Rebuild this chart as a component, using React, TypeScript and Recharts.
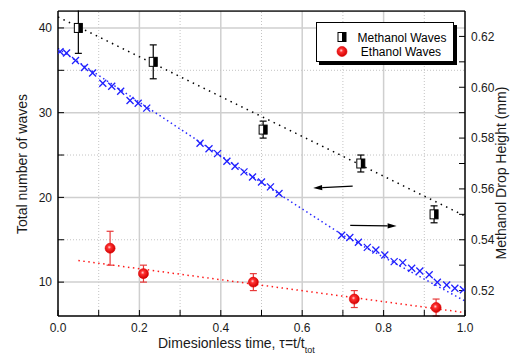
import {
  ComposedChart,
  XAxis,
  YAxis,
  Line,
  Scatter,
  ErrorBar,
  ReferenceLine,
} from "recharts";

const FONT = "'Liberation Sans', Arial, Helvetica, sans-serif";

// wave counts, left axis
const methanolTau = [0.05, 0.234, 0.504, 0.744, 0.924];
const methanolWaves = [40, 36, 28, 24, 18];
const methanolErr = [3, 2, 1, 1, 1];

const ethanolTau = [0.128, 0.21, 0.48, 0.728, 0.929];
const ethanolWaves = [14, 11, 10, 8, 7];
const ethanolErr = [2, 1, 1, 1, 1];

// dotted trend lines (end points)
const methanolFitTau = [0, 1];
const methanolFit = [41.3, 17.8];
const ethanolFitTau = [0.05, 1];
const ethanolFit = [12.55, 6.4];

// drop height, right axis
const heightTau = [
  0.005, 0.021, 0.043, 0.065, 0.085, 0.11, 0.132, 0.154, 0.177, 0.197, 0.218,
  0.349, 0.371, 0.392, 0.415, 0.435, 0.457, 0.478, 0.5, 0.522, 0.543,
  0.697, 0.717, 0.738, 0.76, 0.781, 0.803, 0.826, 0.847, 0.869, 0.889, 0.912,
  0.932, 0.955, 0.975, 0.996,
];
const heightMm = [
  0.614, 0.6135, 0.6105, 0.6078, 0.6056, 0.6016, 0.6004, 0.5984, 0.5948,
  0.5937, 0.5918,
  0.578, 0.5758, 0.5739, 0.5709, 0.5689, 0.5667, 0.5647, 0.5627, 0.5608,
  0.5582,
  0.5418, 0.5409, 0.539, 0.537, 0.536, 0.534, 0.5314, 0.531, 0.5288, 0.5277,
  0.5262, 0.5233, 0.5222, 0.5209, 0.5203,
];
const heightFitTau = [0, 0.54, 0.7, 1];
const heightFit = [0.6152, 0.5583, 0.5418, 0.5159];

// ticks
const xTicks = [0, 0.1, 0.2, 0.3, 0.4, 0.5, 0.6, 0.7, 0.8, 0.9, 1];
const leftTicks = [10, 15, 20, 25, 30, 35, 40];
const rightTicks = [0.52, 0.53, 0.54, 0.55, 0.56, 0.57, 0.58, 0.59, 0.6, 0.61, 0.62];

// arrows pointing at each series' axis
const arrowToLeft = [
  { x: 0.724, y: 21.34 },
  { x: 0.627, y: 21.1 },
];
const arrowToRight = [
  { x: 0.718, y: 16.69 },
  { x: 0.832, y: 16.63 },
];

const zip = (ts: number[], vs: number[], es?: number[]) =>
  ts.map((t, i) => ({ t, v: vs[i], err: es ? es[i] : 0 }));

const methanolData = zip(methanolTau, methanolWaves, methanolErr);
const ethanolData = zip(ethanolTau, ethanolWaves, ethanolErr);
const methanolFitData = zip(methanolFitTau, methanolFit);
const ethanolFitData = zip(ethanolFitTau, ethanolFit);
const heightData = zip(heightTau, heightMm);
const heightFitData = zip(heightFitTau, heightFit);

const xMajorGrid = xTicks.filter((_, i) => i % 2 === 0 && i > 0 && i < 10);
const xMinorGrid = xTicks.filter((_, i) => i % 2 === 1);
const yMajorGrid = leftTicks.filter((_, i) => i % 2 === 0);
const yMinorGrid = leftTicks.filter((_, i) => i % 2 === 1);

const tickStyle = { fill: "#1a1a1a", fontSize: 12, fontFamily: FONT };
const axisStyle = { stroke: "#000", strokeWidth: 1.5 };
const tickLineStyle = { stroke: "#000", strokeWidth: 1 };

function HalfSquare({ cx, cy }: any) {
  if (cx == null || cy == null) return null;
  return (
    <g>
      <rect x={cx - 4} y={cy - 4.5} width={8} height={9} fill="#fff" stroke="#000" strokeWidth={1} />
      <rect x={cx} y={cy - 4.5} width={4} height={9} fill="#000" />
    </g>
  );
}

function Ball({ cx, cy }: any) {
  if (cx == null || cy == null) return null;
  return (
    <g>
      <defs>
        <radialGradient id="ballGrad" cx="42%" cy="40%" r="60%">
          <stop offset="0%" stopColor="#ffd6d6" />
          <stop offset="30%" stopColor="#ff3030" />
          <stop offset="100%" stopColor="#d00000" />
        </radialGradient>
      </defs>
      <circle cx={cx} cy={cy} r={5} fill="url(#ballGrad)" stroke="#e00000" strokeWidth={0.6} />
    </g>
  );
}

function Cross({ cx, cy }: any) {
  if (cx == null || cy == null) return null;
  const s = 3.5;
  return (
    <g stroke="#1f1fff" strokeWidth={1.3}>
      <line x1={cx - s} y1={cy - s} x2={cx + s} y2={cy + s} />
      <line x1={cx - s} y1={cy + s} x2={cx + s} y2={cy - s} />
    </g>
  );
}

function Arrow({ x1, y1, x2, y2 }: any) {
  if (x1 == null) return null;
  const ang = Math.atan2(y2 - y1, x2 - x1);
  const len = 9;
  const hw = 2.6;
  const bx = x2 - len * Math.cos(ang);
  const by = y2 - len * Math.sin(ang);
  const px = -Math.sin(ang) * hw;
  const py = Math.cos(ang) * hw;
  return (
    <g>
      <line x1={x1} y1={y1} x2={bx} y2={by} stroke="#000" strokeWidth={1.3} />
      <polygon points={`${x2},${y2} ${bx + px},${by + py} ${bx - px},${by - py}`} fill="#000" />
    </g>
  );
}

function ChartLegend() {
  return (
    <div
      style={{
        position: "absolute",
        left: 316,
        top: 22,
        width: 138,
        height: 40,
        border: "1px solid #000",
        boxShadow: "3px 3px 0 #000",
        background: "#fff",
        boxSizing: "border-box",
        fontFamily: FONT,
        fontSize: 12,
        color: "#000",
      }}
    >
      <svg width={138} height={40} style={{ position: "absolute", left: -1, top: -1 }}>
        <HalfSquare cx={26} cy={15} />
        <Ball cx={26} cy={29.5} />
        <text x={86} y={19.5} textAnchor="middle" fontSize={12} fontFamily={FONT}>
          Methanol Waves
        </text>
        <text x={85} y={34} textAnchor="middle" fontSize={12} fontFamily={FONT}>
          Ethanol Waves
        </text>
      </svg>
    </div>
  );
}

function Titles() {
  return (
    <svg
      width={514}
      height={356}
      style={{ position: "absolute", left: 0, top: 0, pointerEvents: "none" }}
      fontFamily={FONT}
    >
      {/* error bars are not clipped by recharts, so blank the strip above the frame */}
      <rect x={0} y={0} width={514} height={10.2} fill="#fff" />
      <text
        x={22}
        y={164}
        transform="rotate(-90 22 164)"
        textAnchor="middle"
        dominantBaseline="central"
        fontSize={14}
        fill="#1a1a1a"
      >
        Total number of waves
      </text>
      <text
        x={501}
        y={173}
        transform="rotate(-90 501 173)"
        textAnchor="middle"
        dominantBaseline="central"
        fontSize={14}
        fill="#1a1a1a"
      >
        Methanol Drop Height (mm)
      </text>
      <text x={158} y={347.5} fontSize={14} fill="#1a1a1a">
        Dimesionless time, τ=t/t
        <tspan fontSize={9} dy={5}>
          tot
        </tspan>
      </text>
    </svg>
  );
}

export default function App() {
  return (
    <div
      style={{
        position: "absolute",
        left: 0,
        top: 0,
        width: 514,
        height: 356,
        background: "#fff",
        overflow: "hidden",
      }}
    >
      <ComposedChart width={514} height={356} margin={{ top: 10, right: 0, bottom: 0, left: 0 }}>
        <XAxis
          dataKey="t"
          type="number"
          domain={[0, 1]}
          allowDataOverflow
          ticks={xTicks}
          interval={0}
          tickFormatter={(v: number) => (Math.round(v * 10) % 2 === 0 ? v.toFixed(1) : "")}
          height={40}
          tickSize={-6}
          tickMargin={13}
          tick={tickStyle}
          axisLine={axisStyle}
          tickLine={tickLineStyle}
        />
        <XAxis
          xAxisId="top"
          orientation="top"
          type="number"
          domain={[0, 1]}
          ticks={xTicks}
          interval={0}
          tickFormatter={() => ""}
          height={1}
          tickSize={-6}
          axisLine={axisStyle}
          tickLine={tickLineStyle}
        />
        <YAxis
          yAxisId="left"
          type="number"
          domain={[6, 42]}
          allowDataOverflow
          ticks={leftTicks}
          interval={0}
          tickFormatter={(v: number) => (v % 10 === 0 ? String(v) : "")}
          width={58}
          tickSize={-6}
          tickMargin={12}
          tick={tickStyle}
          axisLine={axisStyle}
          tickLine={tickLineStyle}
        />
        <YAxis
          yAxisId="right"
          orientation="right"
          type="number"
          domain={[0.51, 0.63]}
          allowDataOverflow
          ticks={rightTicks}
          interval={0}
          tickFormatter={(v: number) => (Math.round(v * 100) % 2 === 0 ? v.toFixed(2) : "")}
          width={49}
          tickSize={-6}
          tickMargin={12}
          tick={tickStyle}
          axisLine={axisStyle}
          tickLine={tickLineStyle}
        />

        {xMajorGrid.map((x) => (
          <ReferenceLine key={`xm${x}`} x={x} yAxisId="left" stroke="#cfcfcf" strokeWidth={1.5} />
        ))}
        {xMinorGrid.map((x) => (
          <ReferenceLine key={`xn${x}`} x={x} yAxisId="left" stroke="#c4c4c4" strokeDasharray="1 2" />
        ))}
        {yMajorGrid.map((y) => (
          <ReferenceLine key={`ym${y}`} y={y} yAxisId="left" stroke="#cfcfcf" strokeWidth={1.5} />
        ))}
        {yMinorGrid.map((y) => (
          <ReferenceLine key={`yn${y}`} y={y} yAxisId="left" stroke="#c4c4c4" strokeDasharray="1 2" />
        ))}

        <Line
          yAxisId="left"
          data={methanolFitData}
          dataKey="v"
          stroke="#000"
          strokeWidth={1.5}
          strokeDasharray="1.5 4.5"
          dot={false}
          activeDot={false}
          isAnimationActive={false}
        />
        <Line
          yAxisId="left"
          data={ethanolFitData}
          dataKey="v"
          stroke="#ff1a1a"
          strokeWidth={1.5}
          strokeDasharray="1.5 3.5"
          dot={false}
          activeDot={false}
          isAnimationActive={false}
        />
        <Line
          yAxisId="right"
          data={heightFitData}
          dataKey="v"
          stroke="#2a2aff"
          strokeWidth={1.5}
          strokeDasharray="1.5 3"
          dot={false}
          activeDot={false}
          isAnimationActive={false}
        />
        <Scatter
          yAxisId="right"
          data={heightData}
          dataKey="v"
          shape={(p: any) => <Cross {...p} />}
          isAnimationActive={false}
        />
        <Scatter
          yAxisId="left"
          data={methanolData}
          dataKey="v"
          shape={(p: any) => <HalfSquare {...p} />}
          isAnimationActive={false}
        >
          <ErrorBar dataKey="err" direction="y" width={3.5} stroke="#000" strokeWidth={1.2} />
        </Scatter>
        <Scatter
          yAxisId="left"
          data={ethanolData}
          dataKey="v"
          shape={(p: any) => <Ball {...p} />}
          isAnimationActive={false}
        >
          <ErrorBar dataKey="err" direction="y" width={3.5} stroke="#e83a3a" strokeWidth={1.2} />
        </Scatter>

        <ReferenceLine yAxisId="left" segment={arrowToLeft} shape={(p: any) => <Arrow {...p} />} />
        <ReferenceLine yAxisId="left" segment={arrowToRight} shape={(p: any) => <Arrow {...p} />} />
      </ComposedChart>
      <Titles />
      <ChartLegend />
    </div>
  );
}
